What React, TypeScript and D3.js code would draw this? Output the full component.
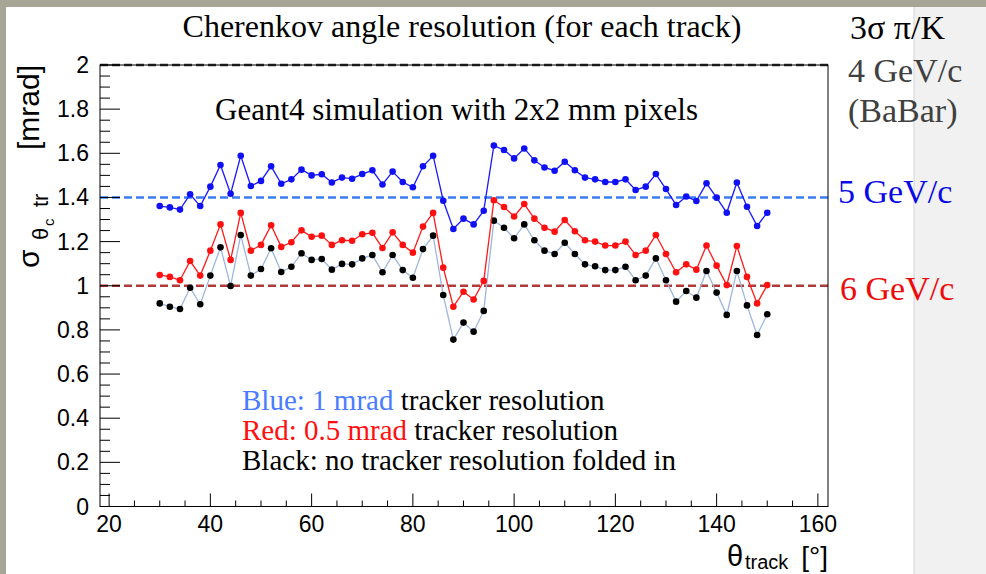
import React from "react";
import * as d3 from "d3";

// Track polar angle (degrees), one point every 2 degrees
const thetaTrack = [
  30, 32, 34, 36, 38, 40, 42, 44, 46, 48, 50, 52, 54, 56, 58, 60, 62, 64, 66, 68,
  70, 72, 74, 76, 78, 80, 82, 84, 86, 88, 90, 92, 94, 96, 98, 100, 102, 104, 106,
  108, 110, 112, 114, 116, 118, 120, 122, 124, 126, 128, 130, 132, 134, 136, 138,
  140, 142, 144, 146, 148, 150,
];

// Cherenkov angle resolution per track [mrad], 1 mrad tracker resolution folded in
const sigmaTracker1mrad = [
  1.361, 1.355, 1.345, 1.414, 1.361, 1.449, 1.547, 1.417, 1.589, 1.452, 1.475,
  1.541, 1.462, 1.482, 1.526, 1.5, 1.505, 1.468, 1.49, 1.485, 1.506, 1.523, 1.459,
  1.517, 1.47, 1.446, 1.541, 1.589, 1.385, 1.257, 1.304, 1.278, 1.34, 1.635, 1.615,
  1.577, 1.622, 1.568, 1.536, 1.521, 1.562, 1.523, 1.49, 1.482, 1.47, 1.47, 1.482,
  1.434, 1.449, 1.506, 1.438, 1.366, 1.404, 1.384, 1.464, 1.399, 1.331, 1.468,
  1.358, 1.271, 1.331,
];

// 0.5 mrad tracker resolution folded in
const sigmaTracker05mrad = [
  1.049, 1.04, 1.025, 1.112, 1.046, 1.159, 1.278, 1.117, 1.33, 1.159, 1.185, 1.274,
  1.176, 1.197, 1.251, 1.222, 1.227, 1.185, 1.206, 1.204, 1.233, 1.24, 1.171, 1.242,
  1.185, 1.15, 1.268, 1.33, 1.082, 0.905, 0.973, 0.938, 1.022, 1.387, 1.357, 1.314,
  1.37, 1.304, 1.263, 1.245, 1.298, 1.247, 1.206, 1.2, 1.182, 1.182, 1.2, 1.139,
  1.159, 1.23, 1.144, 1.061, 1.097, 1.073, 1.182, 1.091, 1.003, 1.18, 1.04, 0.92,
  1.003,
];

// No tracker resolution folded in
const sigmaNoTracker = [
  0.92, 0.905, 0.895, 0.991, 0.916, 1.046, 1.174, 0.999, 1.23, 1.046, 1.076, 1.17,
  1.062, 1.086, 1.147, 1.117, 1.121, 1.073, 1.099, 1.097, 1.124, 1.139, 1.061,
  1.139, 1.071, 1.036, 1.166, 1.227, 0.958, 0.756, 0.833, 0.792, 0.886, 1.295,
  1.263, 1.215, 1.278, 1.206, 1.159, 1.144, 1.195, 1.144, 1.097, 1.088, 1.071,
  1.071, 1.086, 1.025, 1.046, 1.124, 1.025, 0.928, 0.976, 0.946, 1.067, 0.969,
  0.868, 1.067, 0.911, 0.777, 0.871,
];

// 3 sigma pi/K separation thresholds [mrad]
const thresholdMomenta = ["4 GeV/c", "5 GeV/c", "6 GeV/c"];
const thresholdSigma = [2.0, 1.4, 1.0];

const yMajorTicks = [0, 0.2, 0.4, 0.6, 0.8, 1, 1.2, 1.4, 1.6, 1.8, 2];
const yTickLabels = ["0", "0.2", "0.4", "0.6", "0.8", "1", "1.2", "1.4", "1.6", "1.8", "2"];
const xMajorTicks = [20, 40, 60, 80, 100, 120, 140, 160];
const xTickLabels = ["20", "40", "60", "80", "100", "120", "140", "160"];

const W = 986;
const H = 574;
const frame = { left: 100, right: 828, top: 65, bottom: 506.5 };

const SANS = "'Liberation Sans', Arial, Helvetica, sans-serif";
const SERIF = "'Liberation Serif', 'Times New Roman', Times, serif";

export default function App() {
  const x = d3.scaleLinear().domain([18.2, 162]).range([frame.left, frame.right]);
  const y = d3.scaleLinear().domain([0, 2]).range([frame.bottom, frame.top]);

  const series = [
    { values: sigmaNoTracker, line: "#9cb6de", dot: "#000000" },
    { values: sigmaTracker05mrad, line: "#ff1a1a", dot: "#ff1010" },
    { values: sigmaTracker1mrad, line: "#1a1aff", dot: "#1010f5" },
  ];
  const thresholdColors = ["#333333", "#3c7cf0", "#b03a3a"];

  const lineGen = (vals: number[]) =>
    d3
      .line<number>()
      .x((_, i) => x(thetaTrack[i]))
      .y((v) => y(v))(vals) || "";

  const yMinor = d3.range(0, 2.0001, 0.05);
  const xMinor = d3.range(20, 160.001, 5);

  return (
    <div style={{ position: "fixed", left: 0, top: 0, width: W, height: H }}>
      <svg width={W} height={H} viewBox={`0 0 ${W} ${H}`} style={{ display: "block" }}>
        {/* slide background */}
        <rect x={0} y={0} width={W} height={H} fill="#a7a696" />
        <rect x={6} y={7} width={908} height={H - 7} fill="#ffffff" />
        <rect x={914} y={7} width={W - 914} height={H - 7} fill="#f1f1f1" />
        <line x1={914} x2={914} y1={7} y2={H} stroke="#d4d4d4" strokeWidth={1} />

        {/* threshold levels */}
        {thresholdSigma.map((s, i) => (
          <line
            key={"thr" + i}
            x1={frame.left}
            x2={frame.right}
            y1={y(s)}
            y2={y(s)}
            stroke={thresholdColors[i]}
            strokeWidth={2.5}
            strokeDasharray="8,4"
          />
        ))}

        {/* frame */}
        <rect
          x={frame.left}
          y={frame.top}
          width={frame.right - frame.left}
          height={frame.bottom - frame.top}
          fill="none"
          stroke="#000"
          strokeWidth={1}
        />

        {/* y ticks */}
        {yMinor.map((v, i) => {
          const major = Math.abs(v / 0.2 - Math.round(v / 0.2)) < 1e-6;
          return (
            <line
              key={"ym" + i}
              x1={frame.left}
              x2={frame.left + (major ? 20 : 10)}
              y1={y(v)}
              y2={y(v)}
              stroke="#000"
              strokeWidth={1}
            />
          );
        })}
        {yMajorTicks.map((v, i) => (
          <text
            key={"yl" + i}
            x={89}
            y={y(v) + 8}
            textAnchor="end"
            fontFamily={SANS}
            fontSize={23}
            fill="#000"
          >
            {yTickLabels[i]}
          </text>
        ))}

        {/* x ticks */}
        {xMinor.map((v, i) => {
          const major = Math.abs(v / 20 - Math.round(v / 20)) < 1e-6;
          return (
            <line
              key={"xm" + i}
              x1={x(v)}
              x2={x(v)}
              y1={frame.bottom}
              y2={frame.bottom - (major ? 13 : 6)}
              stroke="#000"
              strokeWidth={1}
            />
          );
        })}
        {xMajorTicks.map((v, i) => (
          <text
            key={"xl" + i}
            x={x(v)}
            y={532}
            textAnchor="middle"
            fontFamily={SANS}
            fontSize={23}
            fill="#000"
          >
            {xTickLabels[i]}
          </text>
        ))}

        {/* series */}
        {series.map((s, k) => (
          <g key={"s" + k}>
            <path d={lineGen(s.values)} fill="none" stroke={s.line} strokeWidth={1.3} />
            {s.values.map((v, i) => (
              <circle key={i} cx={x(thetaTrack[i])} cy={y(v)} r={3.3} fill={s.dot} />
            ))}
          </g>
        ))}

        {/* y axis title */}
        <g transform="translate(38.5,268) rotate(-90)" fontFamily={SANS} fill="#000">
          <text x={0} y={0} fontSize={30}>σ</text>
          <text x={28} y={9.5} fontSize={22}>θ</text>
          <text x={42} y={15} fontSize={15}>c</text>
          <text x={61} y={9.5} fontSize={22}>tr</text>
          <text x={118} y={0} fontSize={30}>[mrad]</text>
        </g>

        {/* x axis title */}
        <g fontFamily={SANS} fill="#000">
          <text x={727} y={566} fontSize={29}>θ</text>
          <text x={745} y={569} fontSize={20}>track</text>
          <text x={828} y={566} fontSize={28} textAnchor="end">[°]</text>
        </g>

        {/* titles */}
        <text x={462} y={37} textAnchor="middle" fontFamily={SERIF} fontSize={32} fill="#000">
          Cherenkov angle resolution (for each track)
        </text>
        <text x={215} y={120} fontFamily={SERIF} fontSize={31} fill="#000">
          Geant4 simulation with 2x2 mm pixels
        </text>

        {/* legend */}
        <g fontFamily={SERIF} fontSize={29}>
          <text x={242} y={410}>
            <tspan fill="#4a7cff">Blue: 1 mrad </tspan>
            <tspan fill="#000">tracker resolution</tspan>
          </text>
          <text x={242} y={440}>
            <tspan fill="#ff1010">Red: 0.5 mrad </tspan>
            <tspan fill="#000">tracker resolution</tspan>
          </text>
          <text x={242} y={470} fill="#000">
            Black: no tracker resolution folded in
          </text>
        </g>

        {/* threshold annotations */}
        <g fontFamily={SERIF} fontSize={34}>
          <text x={850} y={39} fill="#000">3σ π/K</text>
          <text x={848} y={82} fill="#404040">{thresholdMomenta[0]}</text>
          <text x={848} y={122} fill="#404040">(BaBar)</text>
          <text x={838} y={203} fill="#0a0ae6">{thresholdMomenta[1]}</text>
          <text x={840} y={300} fill="#ee0a0a">{thresholdMomenta[2]}</text>
        </g>
      </svg>
    </div>
  );
}
